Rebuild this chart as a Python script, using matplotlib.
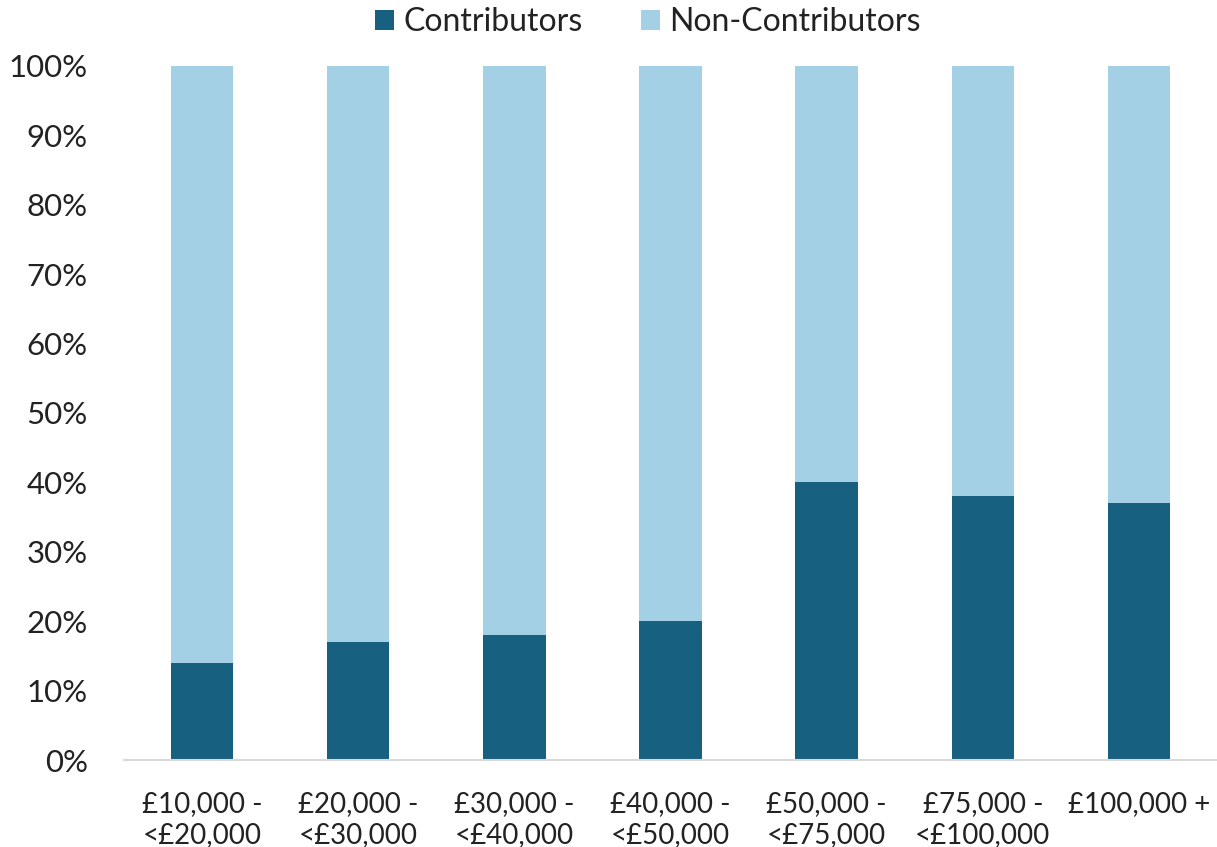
import matplotlib
matplotlib.use("Agg")
import matplotlib.pyplot as plt
import numpy as np

categories = ["£10,000 -\n<£20,000", "£20,000 -\n<£30,000", "£30,000 -\n<£40,000",
              "£40,000 -\n<£50,000", "£50,000 -\n<£75,000", "£75,000 -\n<£100,000",
              "£100,000 +"]
contributors = [14, 17, 18, 20, 40, 38, 37]
non_contributors = [100 - v for v in contributors]
y_ticks = [0, 10, 20, 30, 40, 50, 60, 70, 80, 90, 100]

plt.rcParams['font.family'] = ['Lato', 'DejaVu Sans']

W, H = 1217, 847
fig = plt.figure(figsize=(W/100, H/100), dpi=100)
ax = fig.add_axes([124/W, 1 - 760/H, (1217-124)/W, (760-66)/H])

x = np.arange(len(categories))
dark = "#17607F"
light = "#A4D0E6"
ax.bar(x, contributors, width=0.4, color=dark, label="Contributors")
ax.bar(x, non_contributors, width=0.4, bottom=contributors, color=light, label="Non-Contributors")

ax.set_xlim(-0.5, 6.5)
ax.set_ylim(0, 100)
ax.set_yticks(y_ticks)
ax.set_yticklabels([f"{v}%" for v in y_ticks], fontsize=22.5, color="#222222")
ax.set_xticks(x)
ax.set_xticklabels(categories, fontsize=20, color="#222222", linespacing=1.25)
ax.tick_params(axis='both', length=0)
ax.tick_params(axis='x', pad=22)
ax.tick_params(axis='y', pad=26)
for s in ["top", "right", "left"]:
    ax.spines[s].set_visible(False)
ax.spines["bottom"].set_color("#D9D9D9")
ax.spines["bottom"].set_linewidth(1.5)

leg = fig.legend(loc="center", bbox_to_anchor=(648/W, 1 - 22/H), ncol=2, frameon=False,
                 fontsize=23, handlelength=0.6, handleheight=0.6, columnspacing=1.8,
                 handletextpad=0.3)
for t in leg.get_texts():
    t.set_color("#222222")

fig.savefig("out.png", dpi=100)
